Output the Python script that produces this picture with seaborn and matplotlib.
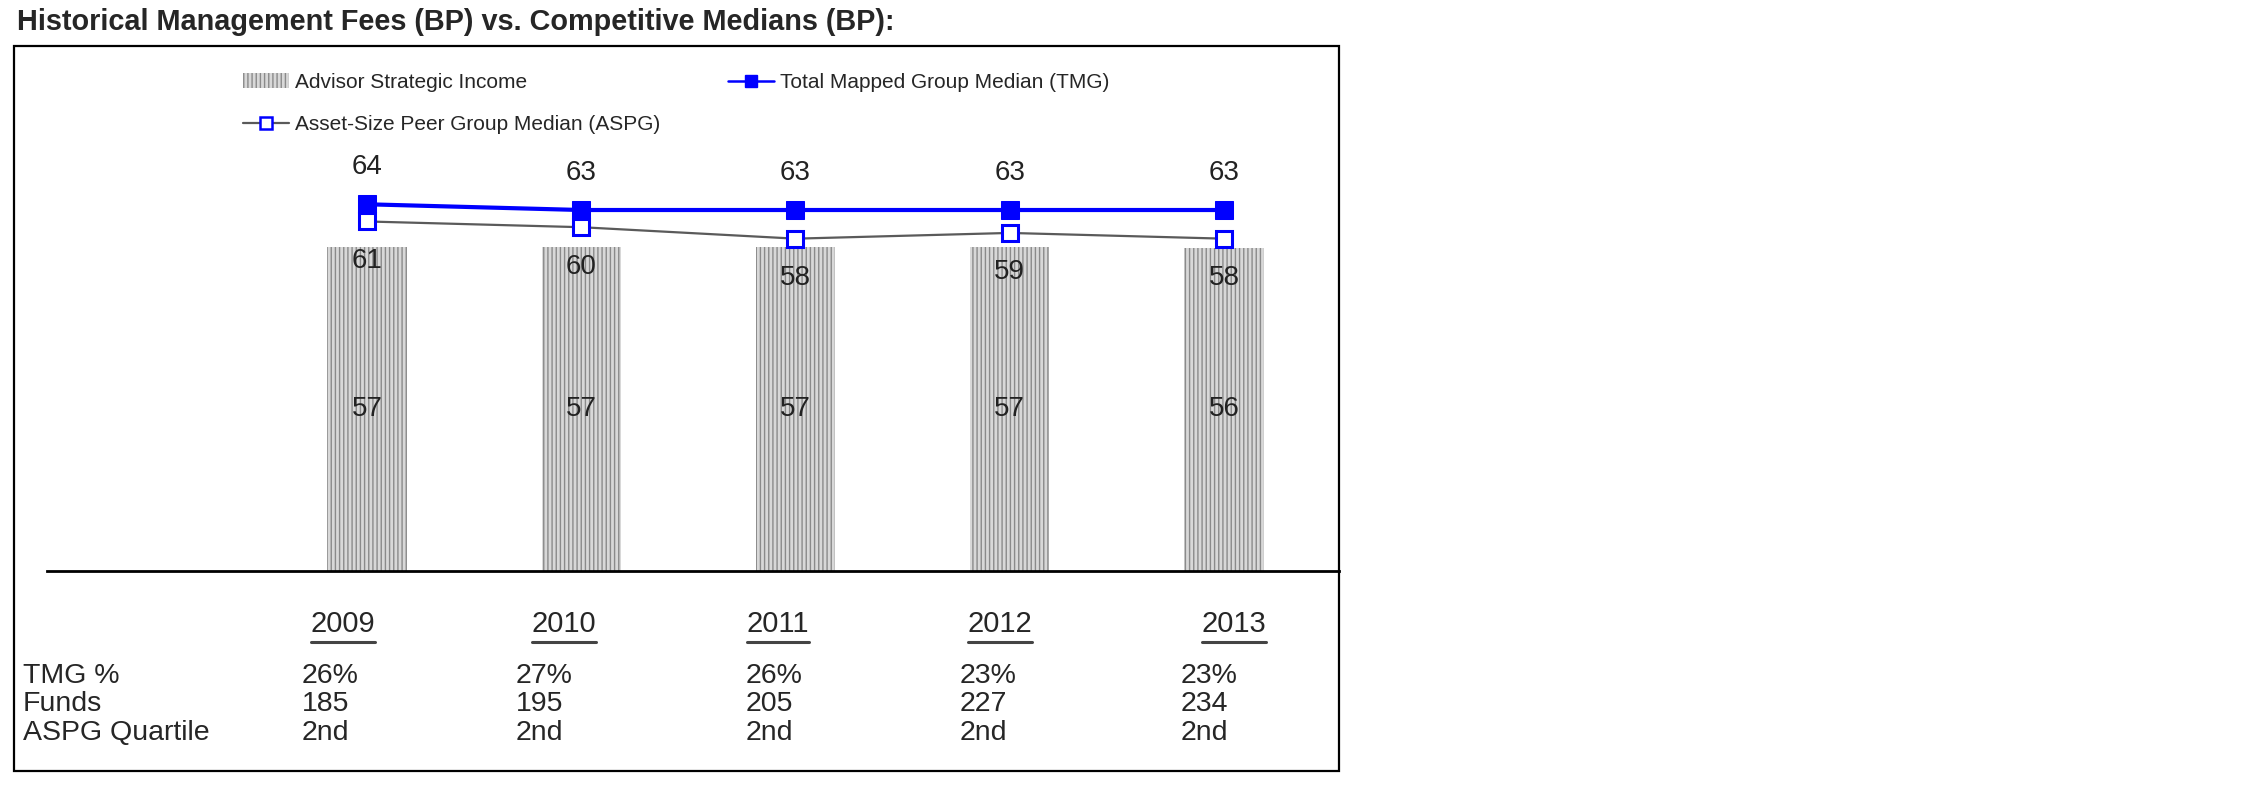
import numpy as np
import pandas as pd
import matplotlib
matplotlib.use("Agg")
import matplotlib.pyplot as plt
import seaborn as sns
from matplotlib.patches import Patch, Rectangle
from matplotlib.lines import Line2D

# values
years = ['2009', '2010', '2011', '2012', '2013']
advisor_income = [56.6, 56.6, 56.6, 56.6, 56.4]
tmg_median = [64, 63, 63, 63, 63]
aspg_median = [61, 60, 58, 59, 58]
tmg_pct = ['26%', '27%', '26%', '23%', '23%']
funds = [185, 195, 205, 227, 234]
aspg_quartile = ['2nd', '2nd', '2nd', '2nd', '2nd']

sns.set_style('white')
plt.rcParams['font.family'] = ['Liberation Sans', 'DejaVu Sans']
plt.rcParams['hatch.linewidth'] = 1.0

W, H = 2250, 796
fig = plt.figure(figsize=(W / 100, H / 100), dpi=100)


def fx(px):
    return px / W


def fy(py):
    return 1 - py / H


# plot area: baseline at y=571, 0..80 bp
ax_left, ax_right, ax_bottom, ax_top = 47, 1339, 571, 112.6
ax = fig.add_axes([fx(ax_left), fy(ax_bottom), fx(ax_right - ax_left), (ax_bottom - ax_top) / H])

df = pd.DataFrame({'Year': years, 'Advisor': advisor_income,
                   'TMG': tmg_median, 'ASPG': aspg_median})

bar_face, bar_hatch = '#d8d8d8', '#8a8a8a'
sns.barplot(data=df, x='Year', y='Advisor', ax=ax, width=0.37,
            color=bar_face, edgecolor=bar_hatch, linewidth=0,
            hatch='||||', saturation=1, zorder=1)
sns.lineplot(data=df, x='Year', y='TMG', ax=ax, color='#0000ff', lw=3.0,
             marker='s', markersize=13, markerfacecolor='#0000ff',
             markeredgecolor='#0000ff', zorder=3)
sns.lineplot(data=df, x='Year', y='ASPG', ax=ax, color='#5a5a5a', lw=1.6,
             marker='s', markersize=11.5, markerfacecolor='white',
             markeredgecolor='#0000ff', markeredgewidth=2.2, zorder=4)

lab = dict(ha='center', va='center', fontsize=20, color='#222222', zorder=5)
for i, (a, t, s) in enumerate(zip(advisor_income, tmg_median, aspg_median)):
    ax.text(i, t + 6.5, f'{t}', **lab)
    ax.text(i, s - 6.9, f'{s}', **lab)
    ax.text(i, a / 2, f'{a:.0f}', **lab)

ax.set_xlim(-1.4936, 4.537)
ax.set_ylim(0, 80)
ax.set_xlabel('')
ax.set_ylabel('')
ax.set_xticks([])
ax.set_yticks([])
for side in ['top', 'left', 'right']:
    ax.spines[side].set_visible(False)
ax.spines['bottom'].set_color('black')
ax.spines['bottom'].set_linewidth(2)
ax.patch.set_alpha(0)

# title and frame
fig.text(fx(17), fy(22), 'Historical Management Fees (BP) vs. Competitive Medians (BP):',
         fontsize=20.8, fontweight='bold', ha='left', va='center')
fig.add_artist(Rectangle((fx(14), fy(771)), fx(1339 - 14), (771 - 46) / H,
                         transform=fig.transFigure, fill=False, edgecolor='black', lw=1.6))

# legend
handles = [
    Patch(facecolor=bar_face, edgecolor=bar_hatch, linewidth=0, hatch='||||'),
    Line2D([], [], color='#5a5a5a', lw=1.6, marker='s', markersize=9,
           markerfacecolor='white', markeredgecolor='#0000ff', markeredgewidth=1.8),
    Line2D([], [], color='#0000ff', lw=1.8, marker='s', markersize=9,
           markerfacecolor='#0000ff', markeredgecolor='#0000ff'),
]
labels = ['Advisor Strategic Income', 'Asset-Size Peer Group Median (ASPG)',
          'Total Mapped Group Median (TMG)']
fig.legend(handles, labels, loc='upper left', bbox_to_anchor=(fx(243), fy(73)),
           ncol=2, frameon=False, fontsize=15, handlelength=2.2, handletextpad=0.3,
           columnspacing=3.25, labelspacing=1.1, borderaxespad=0, borderpad=0)

# table below the chart
year_x = [343, 564, 778, 1000, 1234]
value_x = [302, 516, 746, 960, 1181]
year_texts = [fig.text(fx(x), fy(624), y, ha='center', va='center', fontsize=21)
              for x, y in zip(year_x, years)]

rows = [('TMG %', tmg_pct, 676), ('Funds', [str(f) for f in funds], 704),
        ('ASPG Quartile', aspg_quartile, 733)]
for name, vals, yy in rows:
    fig.text(fx(23), fy(yy), name, ha='left', va='center', fontsize=20.5)
    for x, v in zip(value_x, vals):
        fig.text(fx(x), fy(yy), v, ha='left', va='center', fontsize=20.5)

# underline the years
fig.canvas.draw()
inv = fig.transFigure.inverted()
for t in year_texts:
    bb = t.get_window_extent().transformed(inv)
    fig.add_artist(Line2D([bb.x0, bb.x1], [bb.y0 - 0.005, bb.y0 - 0.005],
                          transform=fig.transFigure, color='#444444', lw=2.2))

fig.savefig('out.png', dpi=100)
